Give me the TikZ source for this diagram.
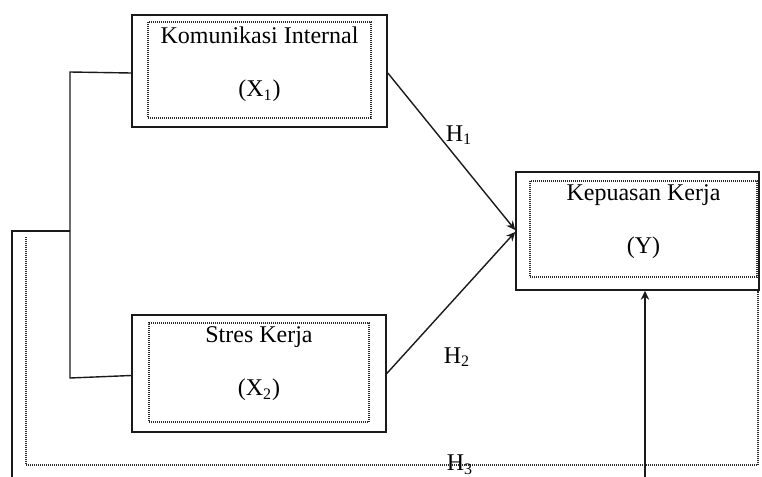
\documentclass[tikz,border=0pt]{standalone}
\usepackage{fontspec}
\setmainfont{Liberation Serif}
\usetikzlibrary{arrows.meta,calc,positioning}
\definecolor{lineC}{HTML}{1A1A1A}
\definecolor{dotC}{HTML}{2A2A2A}
\tikzset{
  outer/.style={draw=lineC, line width=0.8pt, inner sep=0pt},
  inner/.style={draw=dotC, dash pattern=on 0.5pt off 0.5pt, line width=0.6pt, inner sep=0pt},
  txt/.style={anchor=north, align=center, inner sep=0pt, font=\fontsize{12}{14}\selectfont},
  hyp/.style={inner sep=0pt, font=\fontsize{12}{14}\selectfont},
  link/.style={draw=lineC, line width=0.7pt},
  arr/.style={link, -{Stealth[length=4.5pt,width=4.2pt,inset=1.5pt]}},
  dots/.style={draw=dotC, dash pattern=on 0.5pt off 0.5pt, line width=0.6pt},
}
\newcommand\vname[2]{#1\\[12.5pt](#2)}

\begin{document}
\begin{tikzpicture}[x=0.5pt, y=-0.5pt]
\useasboundingbox (0,0) rectangle (762,477);
% boxes
\node[outer, minimum width=127.5pt, minimum height=56pt]   (X1)  at (259.5,71) {};
\node[inner, minimum width=111.5pt, minimum height=48pt]   (X1i) at (259.5,70) {};
\node[txt] (X1t) at ($(X1i.north)+(0,5)$) {\vname{Komunikasi Internal}{X\textsubscript{1}}};
\node[outer, minimum width=127pt, minimum height=58.5pt]   (X2)  at (259,373.5) {};
\node[inner, minimum width=110pt, minimum height=49.5pt]   (X2i) at (259,372.5) {};
\node[txt] (X2t) at ($(X2i.north)+(0,4)$) {\vname{Stres Kerja}{X\textsubscript{2}}};
\node[outer, minimum width=121.5pt, minimum height=59pt]   (Y)   at (637.5,231) {};
\node[inner, minimum width=113.5pt, minimum height=48pt]   (Yi)  at (643.5,229) {};
\node[txt] (Yt) at ($(Yi.north)+(0,4)$) {\vname{Kepuasan Kerja}{Y}};
% bracket on the left
\coordinate (b1) at (70,72);
\coordinate (b2) at (70,378);
\coordinate (bm) at (70,231);
\coordinate (bl) at (12,231);
\coordinate (bb) at (12,477);
\draw[link] ($(X1.west)+(0,2)$) -- (b1) -- (b2) -- ($(X2.west)+(0,2)$);
\draw[link] (bm) -- (bl) -- (bb);
% dotted path round the bottom
\coordinate (d1) at (26,237);
\coordinate (d2) at (26,465);
\coordinate (d3) at (758,465);
\draw[dots] (d1) -- (d2) -- (d3) -- (d3 |- Y.south);
% hypotheses
\draw[arr] ($(X1.east)+(0,2)$) -- ($(Y.west)+(0,-1)$);
\draw[arr] (X2.east) -- ($(Y.west)+(0,1)$);
\coordinate (yb) at (645,477);
\draw[arr] (yb) -- (yb |- Y.south);
\node[hyp] (H1) at (459,135) {H\textsubscript{1}};
\node[hyp] (H2) at (457,357) {H\textsubscript{2}};
\node[hyp] (H3) at (460,465) {H\textsubscript{3}};
\end{tikzpicture}
\end{document}
